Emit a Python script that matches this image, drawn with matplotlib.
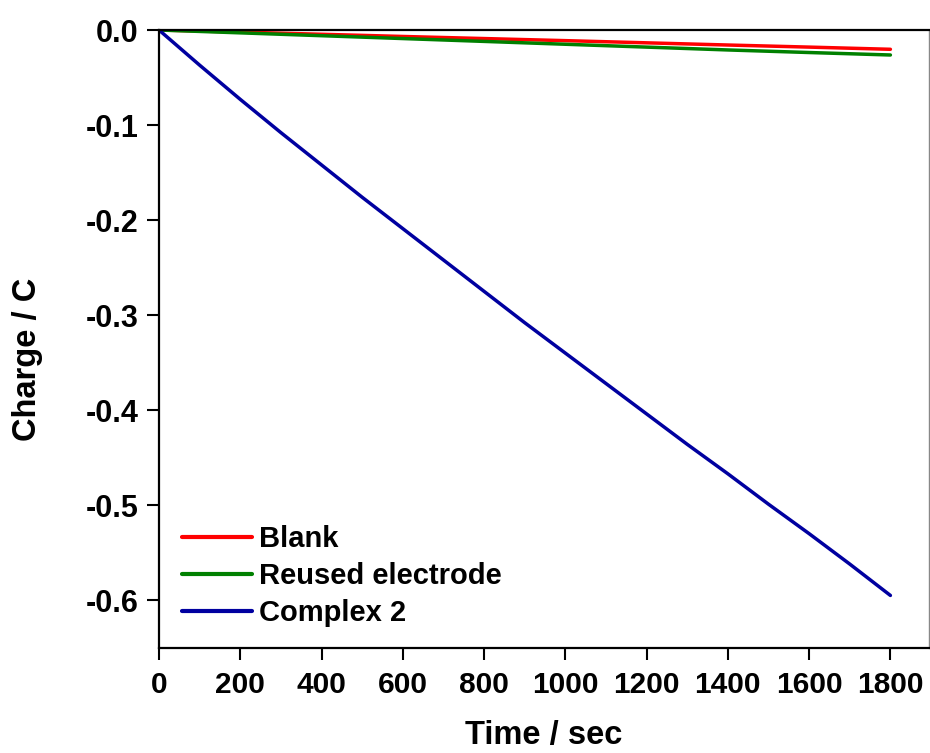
import matplotlib
matplotlib.use("Agg")
import matplotlib.pyplot as plt

plt.rcParams['font.family'] = ['Liberation Sans', 'DejaVu Sans']
plt.rcParams['font.weight'] = 'bold'

time_s = [0, 200, 400, 600, 800, 1000, 1200, 1400, 1600, 1800]
blank = [0, -0.0022, -0.0045, -0.0068, -0.0090, -0.0112, -0.0135, -0.0158, -0.0180, -0.0203]
reused = [0, -0.0030, -0.0060, -0.0090, -0.0120, -0.0150, -0.0180, -0.0210, -0.0237, -0.0263]
time_c = [0, 100, 200, 300, 400, 500, 600, 700, 800, 900, 1000, 1100, 1200, 1300, 1400, 1500, 1600, 1700, 1800]
complex2 = [0, -0.037, -0.073, -0.108, -0.142, -0.176, -0.209, -0.242, -0.275, -0.308,
            -0.340, -0.372, -0.404, -0.436, -0.467, -0.499, -0.530, -0.562, -0.595]

labels = ['Blank', 'Reused electrode', 'Complex 2']
colors = ['#FF0000', '#008000', '#0000A0']

fig = plt.figure(figsize=(9.3, 7.53), dpi=100)
ax = fig.add_axes([159/930, 1 - 647.7/753, (929 - 159)/930, (647.7 - 30)/753])

ax.plot(time_s, blank, color=colors[0], lw=2.5, label=labels[0], solid_capstyle='round')
ax.plot(time_s, reused, color=colors[1], lw=2.5, label=labels[1], solid_capstyle='round')
ax.plot(time_c, complex2, color=colors[2], lw=2.5, label=labels[2], solid_capstyle='round')

ax.set_xlim(0, 1895)
ax.set_ylim(-0.65, 0.0)
ax.set_xticks(range(0, 1801, 200))
ax.set_yticks([0.0, -0.1, -0.2, -0.3, -0.4, -0.5, -0.6])
ax.set_yticklabels(['0.0', '-0.1', '-0.2', '-0.3', '-0.4', '-0.5', '-0.6'])

for side in ['left', 'bottom', 'top']:
    ax.spines[side].set_linewidth(1.6)
ax.spines['right'].set_linewidth(1.0)
ax.spines['right'].set_color('#888888')

ax.tick_params(axis='both', direction='out', length=8.5, width=1.5, labelsize=22, pad=6)
ax.tick_params(axis='x', labelsize=21.5, pad=8)
for lab in ax.get_xticklabels() + ax.get_yticklabels():
    lab.set_fontweight('bold')

ax.set_xlabel('Time / sec', fontsize=23.5, fontweight='bold')
ax.set_ylabel('Charge / C', fontsize=23.5, fontweight='bold')
ax.xaxis.set_label_coords(0.5, -0.117)
ax.yaxis.set_label_coords(-0.150, 0.466)

leg = ax.legend(loc='upper left', bbox_to_anchor=(0.018, 0.212), frameon=False,
                fontsize=21, handlelength=2.4, handletextpad=0.25, labelspacing=0.3,
                borderaxespad=0.0, borderpad=0.3)
for t in leg.get_texts():
    t.set_fontweight('bold')
for l in leg.get_lines():
    l.set_linewidth(3)

fig.savefig('out.png', dpi=100, facecolor='white')
